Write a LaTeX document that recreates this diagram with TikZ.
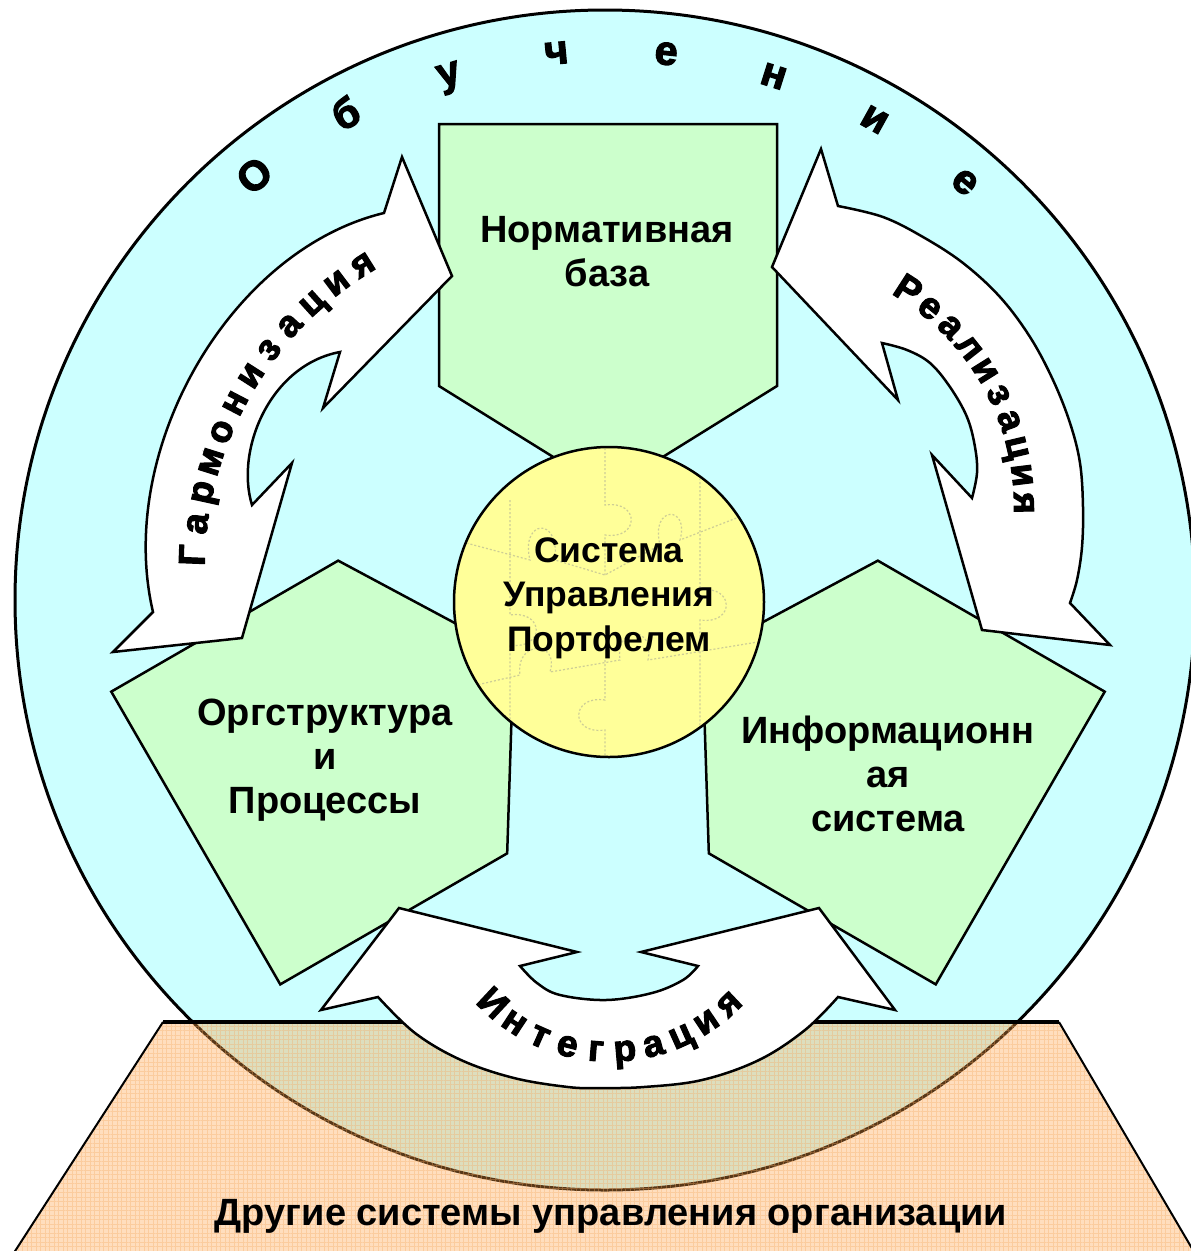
\documentclass[tikz,border=0pt]{standalone}
\usepackage{fontspec}
\setmainfont{Liberation Sans}
\newfontfamily\arcfont{Liberation Sans}[BoldFeatures={FakeBold=3}]
\usetikzlibrary{patterns.meta}
\definecolor{cyanbg}{RGB}{204,255,255}
\definecolor{greenbox}{RGB}{204,255,204}
\definecolor{yellowc}{RGB}{255,255,153}
\definecolor{peach}{RGB}{255,161,69}
\definecolor{gridc}{RGB}{245,170,100}
\definecolor{puzzlec}{RGB}{205,205,150}
\begin{document}
\begin{tikzpicture}[x=1pt,y=-1pt,line join=miter,
  outline/.style={draw=black,line width=2.5pt},
  box/.style={outline,fill=greenbox},
  arrowshape/.style={outline,fill=white},
  lbl/.style={font=\bfseries\fontsize{38}{44}\selectfont,align=center,text=black,inner sep=0pt},
  arcletter/.style={font=\arcfont\bfseries\fontsize{37}{37}\selectfont,inner sep=0pt,text height=19pt,text depth=0pt},
  bigletter/.style={font=\arcfont\bfseries\fontsize{41}{41}\selectfont,inner sep=0pt,text height=21pt,text depth=0pt},
  puzzle/.style={draw=puzzlec,line width=1.2pt,dash pattern=on 2pt off 2pt}]
\useasboundingbox (0,0) rectangle (1191,1251);
\clip (0,0) rectangle (1191,1251);

% outer circle (learning)
\draw[outline,line width=3pt,fill=cyanbg] (605,600) circle[radius=590];

% three pentagons
\begin{scope}[shift={(608,600)}]
  \draw[box] (-169,-476) -- (169,-476) -- (169,-214) -- (0,-109) -- (-169,-214) -- cycle;
  \draw[box,rotate=120] (-169,-476) -- (169,-476) -- (169,-214) -- (0,-109) -- (-169,-214) -- cycle;
  \draw[box,rotate=-120] (-169,-476) -- (169,-476) -- (169,-214) -- (0,-109) -- (-169,-214) -- cycle;
\end{scope}

% central circle with faint puzzle texture
\fill[yellowc] (609,602) circle[radius=155];
\begin{scope}
  \clip (609,602) circle[radius=153];
  \draw[puzzle] (455,540) -- (530,560) .. controls (520,520) and (560,515) .. (555,560) -- (605,575) -- (660,545)
     .. controls (650,505) and (690,505) .. (680,540) -- (770,505);
  \draw[puzzle] (455,690) -- (520,675) .. controls (515,640) and (560,640) .. (550,672) -- (620,660)
     .. controls (615,625) and (655,625) .. (648,660) -- (770,640);
  \draw[puzzle] (605,440) -- (605,505) .. controls (640,500) and (640,540) .. (605,535) -- (605,575);
  \draw[puzzle] (510,500) -- (510,615) .. controls (545,610) and (545,650) .. (510,645) -- (510,760);
  \draw[puzzle] (605,660) -- (605,700) .. controls (570,695) and (570,735) .. (605,730) -- (605,760);
  \draw[puzzle] (700,470) -- (700,590) .. controls (735,585) and (735,625) .. (700,620) -- (700,740);
\end{scope}
\draw[outline] (609,602) circle[radius=155];

\node[lbl] (norm) at (607,252) {Нормативная\\база};
\node[lbl] (org) at (325,760) {Оргструктура\\и\\Процессы};
\node[lbl] (info) at (888,774) {Информационн\\ая\\система};
\node[lbl,font=\bfseries\fontsize{35.5}{44.5}\selectfont] (core) at (609,598) {Система\\Управления\\Портфелем};

% other systems (trapezoid)
\fill[peach,opacity=0.35] (163,1022) -- (1059,1022) -- (1200,1262) -- (8,1262) -- cycle;
\fill[pattern={Hatch[distance=4.5pt,angle=0,line width=0.6pt]},pattern color=gridc,opacity=0.35]
  (163,1022) -- (1059,1022) -- (1200,1262) -- (8,1262) -- cycle;
\draw[line width=2pt] (8,1262) -- (163,1022);
\draw[line width=2pt] (1059,1022) -- (1200,1262);
\draw[line width=3.5pt] (163,1022) -- (1059,1022);
\node[lbl] (other) at (611,1216) {Другие системы управления организации};

% arrow: harmonisation
\draw[arrowshape] (384,213) -- (402,157) -- (452,276) -- (323,408) -- (340,352)
  .. controls (270,365) and (235,450) .. (252,505)
  -- (292,463) -- (242,638) -- (113,652) -- (153,612)
  .. controls (115,450) and (230,250) .. (384,213)
  -- cycle;

% arrow: realisation
\draw[arrowshape] (838,206) -- (821,149) -- (772,267) -- (898,400) -- (882,343)
  -- plot[smooth,tension=0.6] coordinates {(882,343) (907,350) (930,363) (950,387) (967,417) (975,447) (977,473) (972,498)}
  -- (932,455) -- (982,630) -- (1110,645) -- (1070,603)
  -- plot[smooth,tension=0.6] coordinates {(1070,603) (1077,580) (1082,547) (1083,507) (1080,463) (1070,423) (1053,380) (1030,337) (1000,297) (963,263) (923,237) (883,217) (838,206)}
  -- cycle;

% arrow: integration
\draw[arrowshape] (378,997) -- (321,1010) -- (399,908) -- (577,952) -- (520,966)
  -- plot[smooth,tension=0.6] coordinates {(520,966) (537,983) (560,995) (606,1000) (652,993) (683,980) (698,966)}
  -- (641,952) -- (819,908) -- (895,1010) -- (838,997)
  -- plot[smooth,tension=0.6] coordinates {(838,997) (805,1030) (759,1060) (702,1080) (644,1087) (599,1088) (568,1087) (514,1078) (461,1060) (415,1033) (378,997)}
  -- cycle;

% letters along arcs
\foreach \ch [count=\i from 0] in {О,б,у,ч,е,н,и,е}{
  \pgfmathsetmacro\a{129.8-11.47*\i}
  \node[bigletter,rotate=\a-90] (ob\i) at ({608+549*cos(\a)},{600-549*sin(\a)}) {\ch};
}
\foreach \ch [count=\i from 0] in {Г,а,р,м,о,н,и,з,а,ц,и,я}{
  \pgfmathsetmacro\a{177.8-5.07*\i}
  \node[arcletter,rotate=\a-90] (ha\i) at ({553+358*cos(\a)},{569-358*sin(\a)}) {\ch};
}
\foreach \ch [count=\i from 0] in {Р,е,а,л,и,з,а,ц,и,я}{
  \pgfmathsetmacro\a{57.2-6.27*\i}
  \node[arcletter,rotate=\a-90] (re\i) at ({768.6+255*cos(\a)},{506.4-255*sin(\a)}) {\ch};
}
\foreach \ch [count=\i from 0] in {И,н,т,е,г,р,а,ц,и,я}{
  \pgfmathsetmacro\a{-133.1+9.61*\i}
  \node[arcletter,rotate=\a+90] (in\i) at ({610+174*cos(\a)},{878-174*sin(\a)}) {\ch};
}
\end{tikzpicture}
\end{document}
